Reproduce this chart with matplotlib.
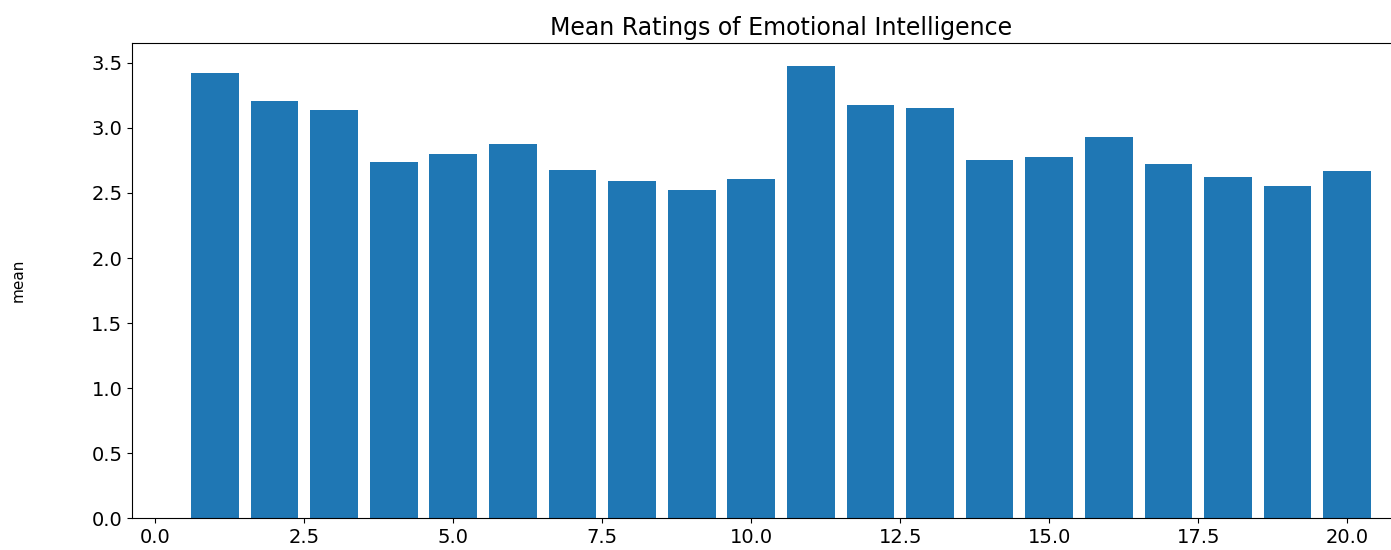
import matplotlib.pyplot as plt
import numpy as np

# bar positions and mean ratings
items = list(range(1, 21))
means = [3.42, 3.21, 3.14, 2.74, 2.80, 2.88, 2.68, 2.59, 2.52, 2.61,
         3.48, 3.18, 3.15, 2.75, 2.78, 2.93, 2.72, 2.62, 2.55, 2.67]

fig = plt.figure(figsize=(13.91, 5.5), dpi=100)
# the original is cropped on the right, so the axes run past the figure edge
ax = fig.add_axes([0.095, 0.058, 0.933, 0.864])
ax.bar(items, means, color='#1f77b4')

ax.set_title('Mean Ratings of Emotional Intelligence', fontsize=17)
ax.set_ylabel('mean', fontsize=11)
ax.yaxis.set_label_coords(-0.082, 0.5)
ax.tick_params(labelsize=14)

plt.savefig('out.png', dpi=100)
